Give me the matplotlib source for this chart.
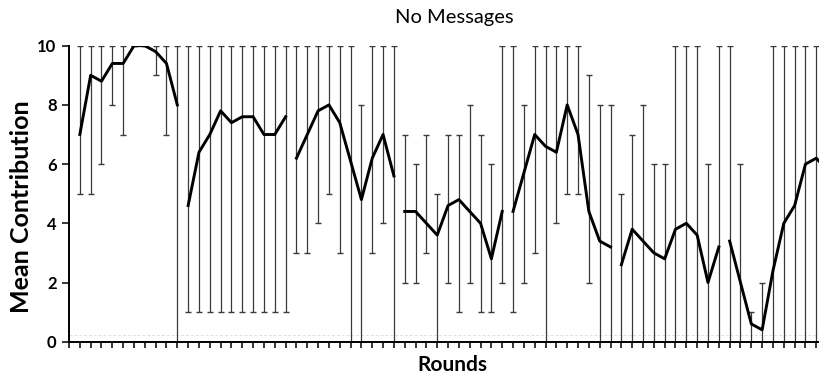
import matplotlib.pyplot as plt
import numpy as np

plt.rcParams['font.family'] = ['Lato', 'DejaVu Sans']

# mean contribution per round, 7 blocks of 10 rounds
seg1 = [7.0, 9.0, 8.8, 9.4, 9.4, 10.0, 10.0, 9.8, 9.4, 8.0]
seg2 = [4.6, 6.4, 7.0, 7.8, 7.4, 7.6, 7.6, 7.0, 7.0, 7.6]
seg3 = [6.2, 7.0, 7.8, 8.0, 7.4, 6.1, 4.8, 6.2, 7.0, 5.6]
seg4 = [4.4, 4.4, 4.0, 3.6, 4.6, 4.8, 4.4, 4.0, 2.8, 4.4]
seg5 = [4.4, 5.7, 7.0, 6.6, 6.4, 8.0, 7.0, 4.4, 3.4, 3.2]
seg6 = [2.6, 3.8, 3.4, 3.0, 2.8, 3.8, 4.0, 3.6, 2.0, 3.2]
seg7 = [3.4, 2.0, 0.6, 0.4, 2.4, 4.0, 4.6, 6.0, 6.2, 5.8]

# range (min / max) shown by the bars
low1 = [5, 5, 6, 8, 7, 10, 10, 9, 7, 0]
high1 = [10, 10, 10, 10, 10, 10, 10, 10, 10, 10]
low2 = [1, 1, 1, 1, 1, 1, 1, 1, 1, 1]
high2 = [10, 10, 10, 10, 10, 10, 10, 10, 10, 10]
low3 = [3, 3, 4, 5, 3, 0, 0, 3, 4, 0]
high3 = [10, 10, 10, 10, 10, 10, 8, 10, 10, 10]
low4 = [2, 2, 3, 0, 2, 1, 2, 1, 1, 2]
high4 = [7, 6, 7, 5, 7, 7, 8, 7, 6, 10]
low5 = [1, 2, 3, 0, 4, 5, 5, 2, 0, 0]
high5 = [10, 8, 10, 10, 10, 10, 10, 9, 8, 8]
low6 = [0, 0, 0, 0, 0, 0, 0, 0, 0, 0]
high6 = [5, 7, 8, 6, 6, 10, 10, 10, 6, 10]
low7 = [0, 0, 0, 0, 0, 0, 0, 0, 0, 0]
high7 = [10, 6, 1, 2, 10, 10, 10, 10, 10, 10]

segments = [seg1, seg2, seg3, seg4, seg5, seg6, seg7]
lows = [low1, low2, low3, low4, low5, low6, low7]
highs = [high1, high2, high3, high4, high5, high6, high7]

fig = plt.figure(figsize=(8.19, 3.78), dpi=100)
ax = fig.add_axes([69 / 819, 36.3 / 378, 1 - 69 / 819, 296 / 378])

# faint dashed line just above the axis
ax.axhline(0.22, color='#e0e0e0', lw=0.7, ls=(0, (3, 2)), zorder=0)

start = 1
for seg, lo, hi in zip(segments, lows, highs):
	x = np.arange(start, start + len(seg))
	y = np.array(seg)
	yerr = [y - np.array(lo), np.array(hi) - y]
	ax.errorbar(x, y, yerr=yerr, fmt='none', ecolor='#3a3a3a',
				elinewidth=0.9, capsize=2.3, capthick=1.0, zorder=2)
	ax.plot(x, y, color='black', lw=2.1, zorder=3)
	start += len(seg)

ax.set_xlim(0, 69.25)
ax.set_ylim(0, 10)
ax.set_xticks(np.arange(0, 70))
ax.set_xticklabels([])
ax.set_yticks([0, 2, 4, 6, 8, 10])
ax.tick_params(axis='x', direction='out', length=4, width=1.1, color='black')
ax.tick_params(axis='y', direction='out', length=5, width=1.1, color='black',
			   labelsize=12, pad=4)
for lab in ax.get_yticklabels():
	lab.set_fontweight('bold')

for side in ['top', 'right']:
	ax.spines[side].set_visible(False)
for side in ['left', 'bottom']:
	ax.spines[side].set_linewidth(1.4)

# labels placed in figure pixels
fig.text(452 / 819, 1 - 365 / 378, 'Rounds', fontsize=15, fontweight='bold',
		 ha='center', va='center')
fig.text(21.5 / 819, 1 - 207 / 378, 'Mean Contribution', fontsize=18, fontweight='bold',
		 rotation=90, ha='center', va='center')
fig.text(454 / 819, 1 - 18 / 378, 'No Messages', fontsize=14.5, ha='center', va='center')

plt.savefig('out.png', dpi=100)
